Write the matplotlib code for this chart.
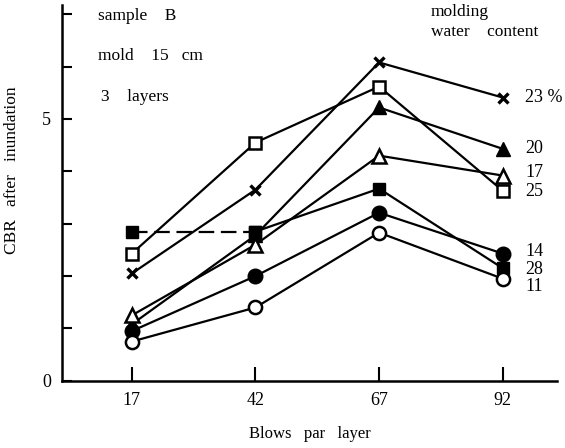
import matplotlib
matplotlib.use('Agg')
import matplotlib.pyplot as plt
import numpy as np

# Blows per layer
blows = [17, 42, 67, 92]

# CBR after inundation, one list per molding water content
cbr_23 = [2.05, 3.65, 6.08, 5.41]
cbr_25 = [2.43, 4.55, 5.62, 3.63]
cbr_20 = [1.08, 2.78, 5.22, 4.43]
cbr_17 = [1.25, 2.60, 4.30, 3.92]
cbr_28 = [2.85, 2.85, 3.67, 2.15]
cbr_14 = [0.95, 2.00, 3.21, 2.43]
cbr_11 = [0.75, 1.40, 2.83, 1.95]

labels = ['23 %', '20', '17', '25', '14', '28', '11']
label_y = [5.41, 4.43, 3.97, 3.62, 2.47, 2.12, 1.80]

plt.rcParams['font.family'] = ['Liberation Serif', 'DejaVu Serif']

fig = plt.figure(figsize=(5.65, 4.48), dpi=100)
ax = fig.add_axes([0.110, 0.150, 0.876, 0.838])

lw = 1.6
ms = 9.5
k = 'black'

ax.plot(blows, cbr_23, color=k, lw=lw, marker='x', ms=7, mew=2.4)
ax.plot(blows, cbr_25, color=k, lw=lw, marker='s', ms=ms - 1, mfc='white', mec=k, mew=1.8)
ax.plot(blows, cbr_20, color=k, lw=lw, marker='^', ms=ms + 1, mfc=k, mec=k)
ax.plot(blows, cbr_17, color=k, lw=lw, marker='^', ms=ms + 1, mfc='white', mec=k, mew=1.8)
ax.plot(blows[1:], cbr_28[1:], color=k, lw=lw, marker='s', ms=ms - 1, mfc=k, mec=k)
ax.plot(blows[:2], cbr_28[:2], color=k, lw=lw, ls=(0, (7, 3)), marker='s', ms=ms - 1, mfc=k, mec=k)
ax.plot(blows, cbr_14, color=k, lw=lw, marker='o', ms=ms + 1, mfc=k, mec=k)
ax.plot(blows, cbr_11, color=k, lw=lw, marker='o', ms=ms, mfc='white', mec=k, mew=1.8)

for lab, yy in zip(labels, label_y):
    ax.text(96.5, yy, lab, fontsize=13, va='center', ha='left')

ax.set_xlim(2.9, 103)
ax.set_ylim(0, 7.17)
ax.set_xticks(blows)
ax.set_xticklabels(['17', '42', '67', '92'], fontsize=13)
ax.set_yticks(range(0, 8))
ax.set_yticklabels(['0', '', '', '', '', '5', '', ''], fontsize=13)
ax.tick_params(axis='both', direction='in', length=7, width=1.5, pad=8)
ax.tick_params(axis='x', length=10)

ax.spines['top'].set_visible(False)
ax.spines['right'].set_visible(False)
ax.spines['left'].set_linewidth(1.8)
ax.spines['bottom'].set_linewidth(1.8)

ax.set_xlabel('Blows   par   layer', fontsize=12, labelpad=12)
ax.set_ylabel('CBR   after   inundation', fontsize=12.5)
ax.yaxis.set_label_coords(-0.085, 0.56)

ax.text(0.072, 0.962, 'sample    B', transform=ax.transAxes, fontsize=12.5)
ax.text(0.072, 0.855, 'mold    15   cm', transform=ax.transAxes, fontsize=12.5)
ax.text(0.078, 0.745, '3    layers', transform=ax.transAxes, fontsize=12.5)
ax.text(0.745, 0.972, 'molding', transform=ax.transAxes, fontsize=12.5)
ax.text(0.745, 0.918, 'water    content', transform=ax.transAxes, fontsize=12.5)

fig.savefig('out.png', dpi=100)
